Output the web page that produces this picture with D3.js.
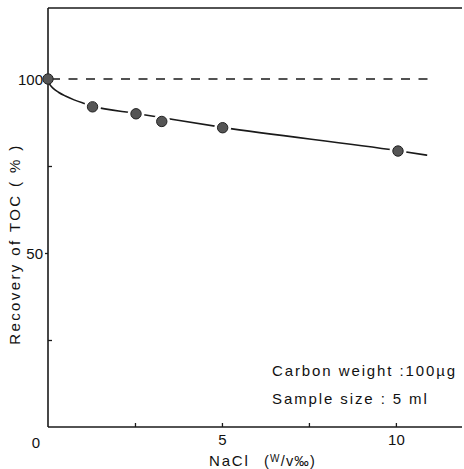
<!DOCTYPE html>
<html><head><meta charset="utf-8">
<script src="https://cdn.jsdelivr.net/npm/d3@7"></script>
<style>body{margin:0;background:#fff}svg text{font-family:"Liberation Sans",Arial,sans-serif;fill:#111}</style>
</head><body>
<svg id="c" width="464" height="469"></svg>
<script>
// data
const nacl = [0, 1.28, 2.53, 3.27, 5.02, 10.06];
const recovery = [100, 92.0, 90.0, 87.8, 86.0, 79.3];
const fitX = [0, 0.02, 0.06, 0.15, 0.3, 0.5, 0.75, 1.0, 1.28, 2.53, 3.27, 5.02, 10.06, 10.9];
const fitY = [100, 99.0, 98.3, 97.3, 96.2, 95.1, 94.0, 93.1, 92.2, 90.1, 88.9, 86.1, 79.4, 78.1];
const refLevel = 100;
const xTicks = [5, 10];
const xMinor = [2.5, 7.5];
const yTicks = [50, 100];
const yMinor = [25, 75];

const svg = d3.select("#c");
const x = d3.scaleLinear().domain([0, 11.9]).range([48, 462]);
const y = d3.scaleLinear().domain([0, 120.4]).range([427, 8]);
const ink = "#1a1a1a";

// axes
const gx = svg.append("g").attr("transform", `translate(0,${y(0)})`)
  .call(d3.axisBottom(x).tickValues(xTicks).tickSize(-4).tickPadding(7).tickFormat(d3.format("d")));
svg.append("g").attr("transform", `translate(0,${y(0)})`)
  .call(d3.axisBottom(x).tickValues(xMinor).tickSize(-4).tickFormat(""))
  .call(g => g.select(".domain").remove());
const gy = svg.append("g").attr("transform", `translate(${x(0)},0)`)
  .call(d3.axisLeft(y).tickValues(yTicks).tickSize(3).tickPadding(2).tickFormat(d3.format("d")));
svg.append("g").attr("transform", `translate(${x(0)},0)`)
  .call(d3.axisRight(y).tickValues(yMinor).tickSize(4).tickFormat(""))
  .call(g => g.select(".domain").remove());
svg.selectAll(".domain").attr("stroke", ink).attr("stroke-width", 1.6);
svg.selectAll(".tick line").attr("stroke", ink).attr("stroke-width", 1.3);
svg.selectAll(".tick text").attr("font-size", 15).attr("font-family", "Liberation Sans").attr("fill", "#111");
gx.selectAll(".tick text").attr("dy", "0.71em");
gy.selectAll(".tick text").attr("dy", "0.35em");
gx.select(".domain").attr("d", `M${x(0)},0H${x.range()[1]}`);
gy.select(".domain").attr("d", `M0,${y(0)}V${y.range()[1]}`);
// top frame
svg.append("line").attr("x1", x(0)).attr("x2", 462).attr("y1", y.range()[1]).attr("y2", y.range()[1])
  .attr("stroke", ink).attr("stroke-width", 1.6);
// origin label
svg.append("text").attr("x", x(0) - 12).attr("y", y(0) + 10).attr("dy", "0.71em")
  .attr("text-anchor", "middle").attr("font-size", 15).text("0");

// dashed reference
svg.append("line").attr("x1", x(0)).attr("x2", x(11.08)).attr("y1", y(refLevel)).attr("y2", y(refLevel))
  .attr("stroke", ink).attr("stroke-width", 1.5).attr("stroke-dasharray", "9,8.5").attr("stroke-dashoffset", -3);

// fitted curve
const fit = fitX.map((v, i) => [v, fitY[i]]);
svg.append("path").datum(fit)
  .attr("d", d3.line().x(d => x(d[0])).y(d => y(d[1])).curve(d3.curveMonotoneX))
  .attr("fill", "none").attr("stroke", ink).attr("stroke-width", 1.6);

// points with white halo to make gaps
const pts = nacl.map((v, i) => [v, recovery[i]]);
svg.append("g").selectAll("circle.h").data(pts.slice(1)).join("circle")
  .attr("cx", d => x(d[0])).attr("cy", d => y(d[1])).attr("r", 8.5).attr("fill", "#fff");
svg.append("g").selectAll("circle.p").data(pts).join("circle")
  .attr("cx", d => x(d[0])).attr("cy", d => y(d[1])).attr("r", 5.2)
  .attr("fill", "#555").attr("stroke", "#222").attr("stroke-width", 1);

// axis titles
svg.append("text").attr("text-anchor", "middle")
  .attr("font-size", 15).attr("letter-spacing", 2.4)
  .attr("transform", `translate(20,244) rotate(-90)`).text("Recovery of TOC ( % )");
svg.append("text").attr("x", 209).attr("y", 466).attr("font-size", 15).attr("letter-spacing", 1.8).text("NaCl");
const xt = svg.append("text").attr("x", 264).attr("y", 466).attr("font-size", 14.5).attr("letter-spacing", 1.2);
xt.append("tspan").text("(");
xt.append("tspan").attr("font-size", 10).attr("dy", -4).text("W");
xt.append("tspan").attr("dy", 4).text("/v‰)");

// annotation
svg.append("text").attr("x", 272).attr("y", 376).attr("font-size", 15).attr("letter-spacing", 1.9).text("Carbon weight :100µg");
svg.append("text").attr("x", 272).attr("y", 404).attr("font-size", 15).attr("letter-spacing", 1.9).text("Sample size : 5 ml");
</script>
</body></html>
